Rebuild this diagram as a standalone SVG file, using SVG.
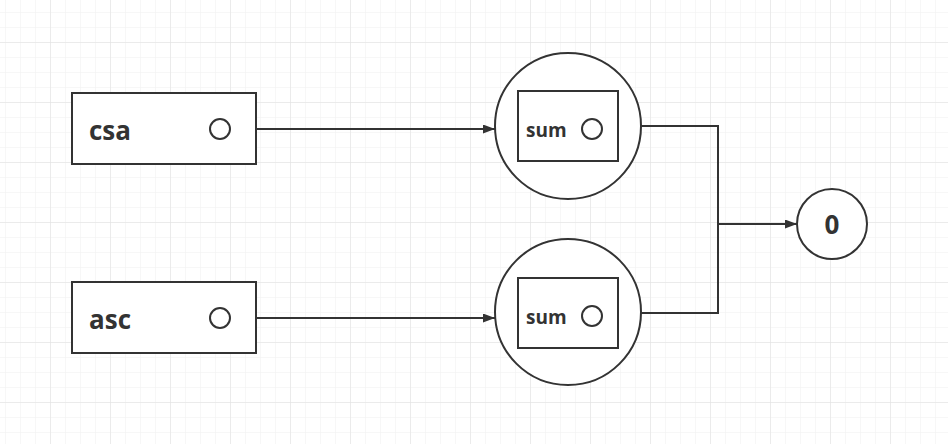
<svg xmlns="http://www.w3.org/2000/svg" width="948" height="444" viewBox="0 0 948 444">
  <defs>
    <pattern id="minor" x="5" y="12" width="15" height="15" patternUnits="userSpaceOnUse">
      <path d="M0 0 H15 M0 0 V15" fill="none" stroke="#efefef" stroke-width="1"/>
    </pattern>
    <pattern id="major" x="50" y="42" width="60" height="60" patternUnits="userSpaceOnUse">
      <path d="M0 0 H60 M0 0 V60" fill="none" stroke="#e0e0e0" stroke-width="1"/>
    </pattern>
    <marker id="arrow" viewBox="0 0 12 9" refX="12" refY="4.5" markerWidth="12" markerHeight="9" markerUnits="userSpaceOnUse" orient="auto">
      <path d="M0 0 L12 4.5 L0 9 Z" fill="#333"/>
    </marker>
  </defs>
  <style>
    .box { fill: #fff; stroke: #333; stroke-width: 2; }
    .port { fill: none; stroke: #333; stroke-width: 2; }
    .big { fill: #fff; stroke: #333; stroke-width: 2; }
    .edge { fill: none; stroke: #333; stroke-width: 2; }
    .lbl { font-family: "Open Sans", "Liberation Sans", sans-serif; font-weight: bold; fill: #333; }
  </style>
  <rect width="948" height="444" fill="#fff"/>
  <rect width="948" height="444" fill="url(#minor)"/>
  <rect width="948" height="444" fill="url(#major)"/>

  <g id="connectors">
    <path class="edge" d="M256 129 H495" marker-end="url(#arrow)"/>
    <path class="edge" d="M256 318 H495" marker-end="url(#arrow)"/>
    <path class="edge" d="M641 126 H718 V313 H641"/>
    <path class="edge" d="M718 224 H797" marker-end="url(#arrow)"/>
  </g>

  <g id="csa">
    <rect class="box" x="72" y="93" width="184" height="71"/>
    <text class="lbl" x="89" y="140" font-size="26">csa</text>
    <circle class="port" cx="220" cy="129" r="10"/>
  </g>

  <g id="asc">
    <rect class="box" x="72" y="282" width="184" height="71"/>
    <text class="lbl" x="89" y="329" font-size="26">asc</text>
    <circle class="port" cx="220" cy="318" r="10"/>
  </g>

  <g id="sum1">
    <circle class="big" cx="568" cy="126" r="73"/>
    <rect class="box" x="518" y="91" width="100" height="70"/>
    <text class="lbl" x="526" y="137" font-size="19">sum</text>
    <circle class="port" cx="592" cy="129" r="10"/>
  </g>

  <g id="sum2">
    <circle class="big" cx="568" cy="312" r="73"/>
    <rect class="box" x="518" y="278" width="100" height="70"/>
    <text class="lbl" x="526" y="324" font-size="19">sum</text>
    <circle class="port" cx="592" cy="316" r="10"/>
  </g>

  <g id="zero">
    <circle class="big" cx="832" cy="224" r="35"/>
    <text class="lbl" x="832" y="234" font-size="26" text-anchor="middle">0</text>
  </g>
</svg>
